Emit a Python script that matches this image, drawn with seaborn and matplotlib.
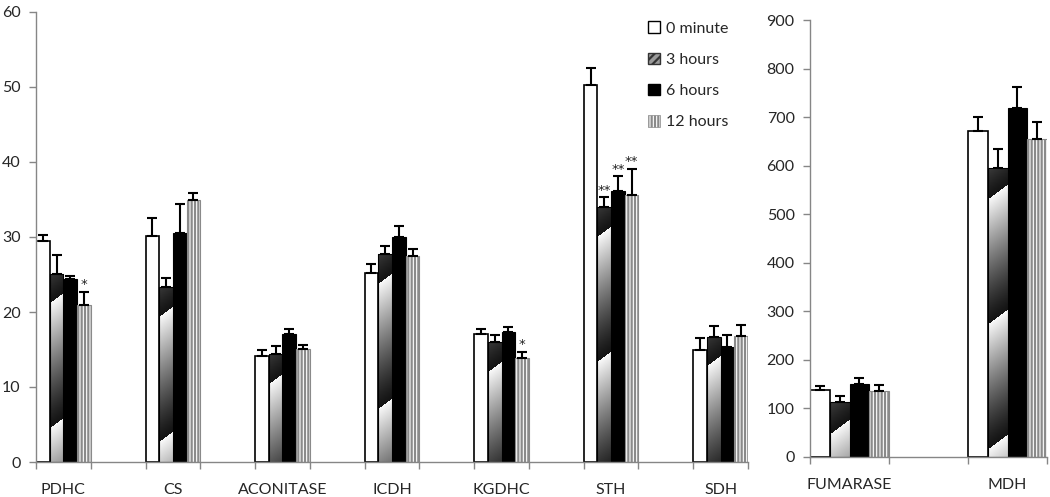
import numpy as np
import pandas as pd
import matplotlib
matplotlib.use("Agg")
import matplotlib.pyplot as plt
import seaborn as sns
from matplotlib.patches import Patch
from matplotlib.container import BarContainer

# ---------------- data ----------------
left_cats = ["PDHC", "CS", "ACONITASE", "ICDH", "KGDHC", "STH", "SDH"]
right_cats = ["FUMARASE", "MDH"]
hues = ["0 minute", "3 hours", "6 hours", "12 hours"]

left_0min = [29.4, 30.1, 14.2, 25.2, 17.1, 50.3, 14.9]
left_3h = [25.1, 23.3, 14.4, 27.7, 16.0, 34.0, 16.7]
left_6h = [24.4, 30.5, 17.1, 30.0, 17.3, 36.1, 15.3]
left_12h = [20.9, 34.9, 15.1, 27.5, 13.9, 35.6, 16.8]

left_err_0min = [0.9, 2.4, 0.8, 1.2, 0.6, 2.3, 1.6]
left_err_3h = [2.5, 1.3, 1.1, 1.1, 0.9, 1.3, 1.4]
left_err_6h = [0.4, 3.9, 0.6, 1.5, 0.7, 2.0, 1.6]
left_err_12h = [1.8, 1.0, 0.5, 0.9, 0.8, 3.5, 1.5]

right_0min = [138, 672]
right_3h = [113, 596]
right_6h = [150, 718]
right_12h = [136, 654]

right_err_0min = [8, 28]
right_err_3h = [12, 38]
right_err_6h = [12, 44]
right_err_12h = [13, 36]

stars = [("PDHC", "12 hours", "*"), ("KGDHC", "12 hours", "*"),
         ("STH", "3 hours", "**"), ("STH", "6 hours", "**"),
         ("STH", "12 hours", "**")]

# ---------------- tables ----------------
def make_df(cats, vals, errs):
    rows = []
    for h, v, e in zip(hues, vals, errs):
        for c, vv, ee in zip(cats, v, e):
            rows.append({"enzyme": c, "time": h, "activity": vv, "err": ee})
    return pd.DataFrame(rows)

dfL = make_df(left_cats, [left_0min, left_3h, left_6h, left_12h],
              [left_err_0min, left_err_3h, left_err_6h, left_err_12h])
dfR = make_df(right_cats, [right_0min, right_3h, right_6h, right_12h],
              [right_err_0min, right_err_3h, right_err_6h, right_err_12h])

def with_spacers(cats):
    order = []
    for i, c in enumerate(cats):
        order.append(c)
        if i < len(cats) - 1:
            order.append(" " * (i + 1))
    return order

orderL = with_spacers(left_cats)
orderR = with_spacers(right_cats)

# ---------------- style ----------------
sns.set_theme(style="white")
plt.rcParams["font.family"] = ["Lato", "DejaVu Sans"]
plt.rcParams["hatch.linewidth"] = 1.6
plt.rcParams["hatch.color"] = "#8a8a8a"
GRAY = "#868686"

fig = plt.figure(figsize=(10.5, 4.97), dpi=100)
axL = fig.add_axes([36 / 1050, 35 / 497, 712 / 1050, 450 / 497])
axR = fig.add_axes([810 / 1050, 40 / 497, 237 / 1050, 437 / 497])


def gradient_fill(ax, bar, period=125.0, slope=0.75, first=25.0):
    x0, w, h = bar.get_x(), bar.get_width(), bar.get_height()
    px0, py0 = ax.transData.transform((x0, 0))
    px1, py1 = ax.transData.transform((x0 + w, h))
    W = max(int(np.ceil(px1 - px0)), 1)
    H = max(int(np.ceil(py1 - py0)), 1)
    xs = np.arange(W) + 0.5 - W / 2.0
    ys = py1 - np.arange(H) - 0.5
    X, Y = np.meshgrid(xs, ys)
    anchor = py1 - first
    phase = np.mod(Y - anchor - slope * X, period) / period
    img = 0.08 + 0.9 * phase ** 1.25
    im = ax.imshow(img, extent=(x0, x0 + w, 0, h), cmap="gray", vmin=0, vmax=1,
                   aspect="auto", interpolation="bilinear", origin="upper",
                   zorder=bar.get_zorder() + 0.1)
    im.set_clip_path(bar)
    bar.set_facecolor("none")
    bar.set_zorder(bar.get_zorder() + 0.2)


def draw_panel(ax, df, order, cats, ymax, ystep):
    sns.barplot(data=df, x="enzyme", y="activity", hue="time", order=order,
                hue_order=hues, width=1.0, gap=0, dodge=True, errorbar=None,
                saturation=1, legend=False, ax=ax)
    n = len(order)
    ax.set_xlim(-0.5, n - 0.5)
    ax.set_ylim(0, ymax)
    ax.set_yticks(np.arange(0, ymax + 1, ystep))
    ax.set_xticks(np.arange(-0.5, n, 1.0))
    ax.set_xticklabels([])
    cat_pos = [order.index(c) for c in cats]
    ax.set_xticks(cat_pos, minor=True)
    ax.set_xticklabels(cats, minor=True, fontsize=11.5)
    ax.tick_params(axis="x", which="major", length=5, width=1, color=GRAY,
                   direction="out", bottom=True)
    ax.tick_params(axis="x", which="minor", length=0, pad=15, bottom=True)
    ax.tick_params(axis="y", length=5, width=1, color=GRAY, direction="out",
                   left=True, labelsize=11.5, pad=6)
    ax.set_xlabel("")
    ax.set_ylabel("")
    for s in ["top", "right"]:
        ax.spines[s].set_visible(False)
    for s in ["left", "bottom"]:
        ax.spines[s].set_color(GRAY)
        ax.spines[s].set_linewidth(1)

    lookup = {(r.enzyme, r.time): (r.activity, r.err) for r in df.itertuples()}
    tips = {}
    bar_conts = [c for c in ax.containers if isinstance(c, BarContainer)]
    for k, cont in enumerate(bar_conts):
        hue = hues[k]
        for bar in cont:
            cx = bar.get_x() + bar.get_width() / 2
            idx = int(round(cx))
            cat = order[idx]
            if (cat, hue) not in lookup:
                continue
            val, err = lookup[(cat, hue)]
            bar.set_zorder(2)
            if hue == "0 minute":
                bar.set_facecolor("white")
                bar.set_edgecolor("black")
                bar.set_linewidth(1.2)
            elif hue == "3 hours":
                bar.set_edgecolor("black")
                bar.set_linewidth(0.8)
                gradient_fill(ax, bar)
            elif hue == "6 hours":
                bar.set_facecolor("black")
                bar.set_edgecolor("black")
                bar.set_linewidth(0.8)
            else:
                bar.set_facecolor("white")
                bar.set_edgecolor("#8a8a8a")
                bar.set_hatch("|||||")
                bar.set_linewidth(0.8)
            ax.errorbar(cx, val, yerr=[[0], [err]], fmt="none", ecolor="black",
                        elinewidth=1.5, capsize=3.5, capthick=1.5, zorder=5)
            tips[(cat, hue)] = (cx, val + err)
    ax.set_xlim(-0.5, n - 0.5)
    ax.set_ylim(0, ymax)
    return tips


tipsL = draw_panel(axL, dfL, orderL, left_cats, 60, 10)
tipsR = draw_panel(axR, dfR, orderR, right_cats, 900, 100)

for cat, hue, lab in stars:
    cx, top = tipsL[(cat, hue)]
    axL.annotate(lab, (cx, top), xytext=(0, 0.5), textcoords="offset points",
                 ha="center", va="bottom", fontsize=9.5, zorder=6,
                 family=["DejaVu Sans"], color="#222222")

handles = [
    Patch(facecolor="white", edgecolor="black", linewidth=1),
    Patch(facecolor="#9a9a9a", edgecolor="#333333", hatch="////", linewidth=1),
    Patch(facecolor="black", edgecolor="black", linewidth=1),
    Patch(facecolor="white", edgecolor="#8a8a8a", hatch="|||||", linewidth=0.5),
]
fig.legend(handles, hues, loc="upper left",
           bbox_to_anchor=(642 / 1050, 1 - 15 / 497), frameon=False,
           fontsize=11.5, handlelength=0.75, handleheight=0.75,
           handletextpad=0.35, labelspacing=1.05, borderaxespad=0)

fig.savefig("out.png", dpi=100)
